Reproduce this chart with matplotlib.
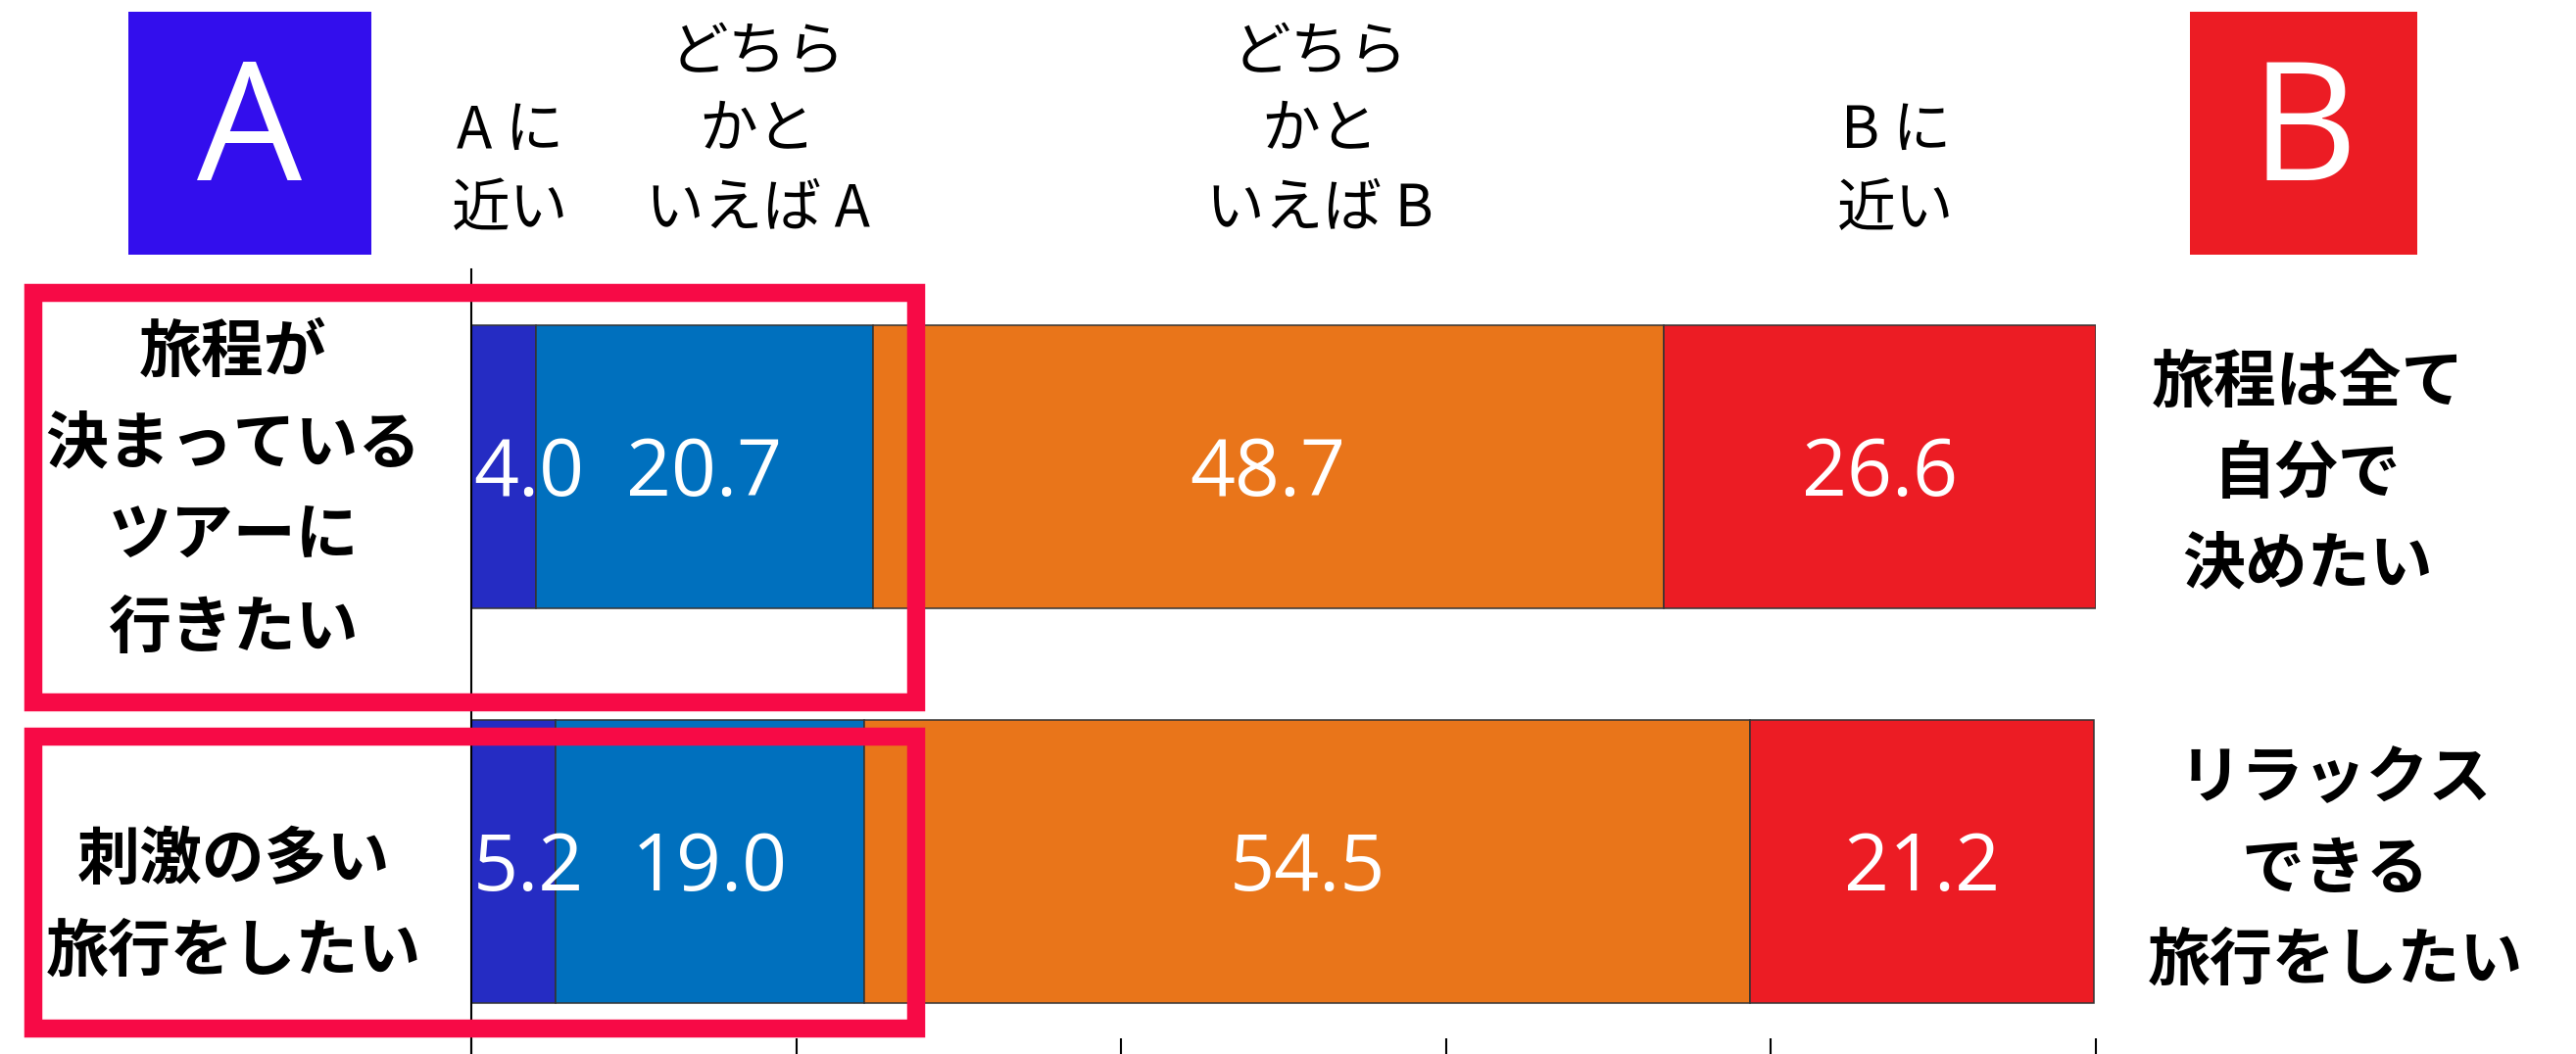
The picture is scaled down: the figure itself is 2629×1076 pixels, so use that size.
import matplotlib
matplotlib.use("Agg")
import matplotlib.pyplot as plt
from matplotlib.patches import Rectangle

plt.rcParams['font.family'] = ['Noto Sans CJK JP', 'DejaVu Sans']

# ---- data ----
categories = ["旅程が\n決まっている\nツアーに\n行きたい", "刺激の多い\n旅行をしたい"]
right_labels = ["旅程は全て\n自分で\n決めたい", "リラックス\nできる\n旅行をしたい"]
responses = ["A に\n近い", "どちら\nかと\nいえば A", "どちら\nかと\nいえば B", "B に\n近い"]
near_a = [4.0, 5.2]
lean_a = [20.7, 19.0]
lean_b = [48.7, 54.5]
near_b = [26.6, 21.2]
x_ticks = [0, 20, 40, 60, 80, 100]

series = [near_a, lean_a, lean_b, near_b]
seg_colors = ['#252CC3', '#0070BE', '#E9751A', '#EC1C24']

W, H = 2629, 1076
fig = plt.figure(figsize=(W / 100, H / 100), dpi=100)


def fx(x):
    return x / W


def fy(y):
    return 1 - y / H


ax = fig.add_axes([fx(481), fy(1076), (2139 - 481) / W, (1076 - 275) / H])
ypos = list(range(len(categories)))
bar_h = 0.717

value_texts = []
left = [0.0] * len(categories)
for vals, col in zip(series, seg_colors):
    ax.barh(ypos, vals, left=left, height=bar_h, color=col,
            edgecolor='#333333', linewidth=1.1, zorder=2)
    for i, v in enumerate(vals):
        t = ax.annotate(f"{v:.1f}", xy=(left[i] + v / 2, ypos[i]),
                        xytext=(0, -6), textcoords='offset points',
                        ha='center', va='center', color='white',
                        fontsize=58, family=['Open Sans', 'DejaVu Sans'],
                        zorder=3)
        value_texts.append(t)
    left = [l + v for l, v in zip(left, vals)]

ax.set_xlim(0, 100)
ax.set_ylim(1.487, -0.501)
ax.set_xticks(x_ticks)
ax.set_yticks([])
ax.tick_params(axis='x', direction='in', length=11.5, width=1.5,
               colors='black', labelbottom=False)
for s in ['top', 'right', 'bottom']:
    ax.spines[s].set_visible(False)
ax.spines['left'].set_linewidth(1.5)
ax.spines['left'].set_color('black')
ax.patch.set_alpha(0)

# keep value labels inside the plot area
fig.canvas.draw()
renderer = fig.canvas.get_renderer()
ax_x0 = ax.get_window_extent(renderer).x0
for t in value_texts:
    bb = t.get_window_extent(renderer)
    if bb.x0 < ax_x0 + 2:
        dx_pts = (ax_x0 + 2 - bb.x0) * 72 / fig.dpi
        ox, oy = t.xyann
        t.xyann = (ox + dx_pts, oy)


def multiline(text, xc, y_first, spacing, **kw):
    for k, line in enumerate(text.split("\n")):
        fig.text(fx(xc), fy(y_first + k * spacing), line,
                 ha='center', va='center', **kw)


# header response labels (bottom aligned)
header_x = [521, 773, 1347, 1935]
for lab, xc in zip(responses, header_x):
    n = len(lab.split("\n"))
    multiline(lab, xc, 214 - (n - 1) * 80, 80, fontsize=43, color='black')

# left (A) statements
left_first = [360, 878]
for lab, y0 in zip(categories, left_first):
    multiline(lab, 238, y0, 94, fontsize=46, fontweight='bold', color='black')

# right (B) statements
right_x = [2355, 2383]
right_first = [391, 795]
for lab, xc, y0 in zip(right_labels, right_x, right_first):
    multiline(lab, xc, y0, 93, fontsize=46, fontweight='bold', color='black')

# A / B boxes
fig.add_artist(Rectangle((fx(131), fy(260)), (379 - 131) / W, (260 - 12) / H,
                         transform=fig.transFigure, facecolor='#330EED',
                         edgecolor='none'))
fig.add_artist(Rectangle((fx(2235), fy(260)), (2467 - 2235) / W, (260 - 12) / H,
                         transform=fig.transFigure, facecolor='#EC1C24',
                         edgecolor='none'))
fig.text(fx(255), fy(140), "A", ha='center', va='center', color='white',
         fontsize=122, family=['Open Sans', 'DejaVu Sans'])
fig.text(fx(2351), fy(140), "B", ha='center', va='center', color='white',
         fontsize=122, family=['Open Sans', 'DejaVu Sans'])

# highlight frames
for (y0, y1) in [(299, 717), (752, 1050)]:
    fig.add_artist(Rectangle((fx(33.5), fy(y1)), (935 - 33.5) / W, (y1 - y0) / H,
                             transform=fig.transFigure, facecolor='none',
                             edgecolor='#F70A46', linewidth=13.3,
                             joinstyle='miter', zorder=10))

fig.savefig("out.png", dpi=100)
